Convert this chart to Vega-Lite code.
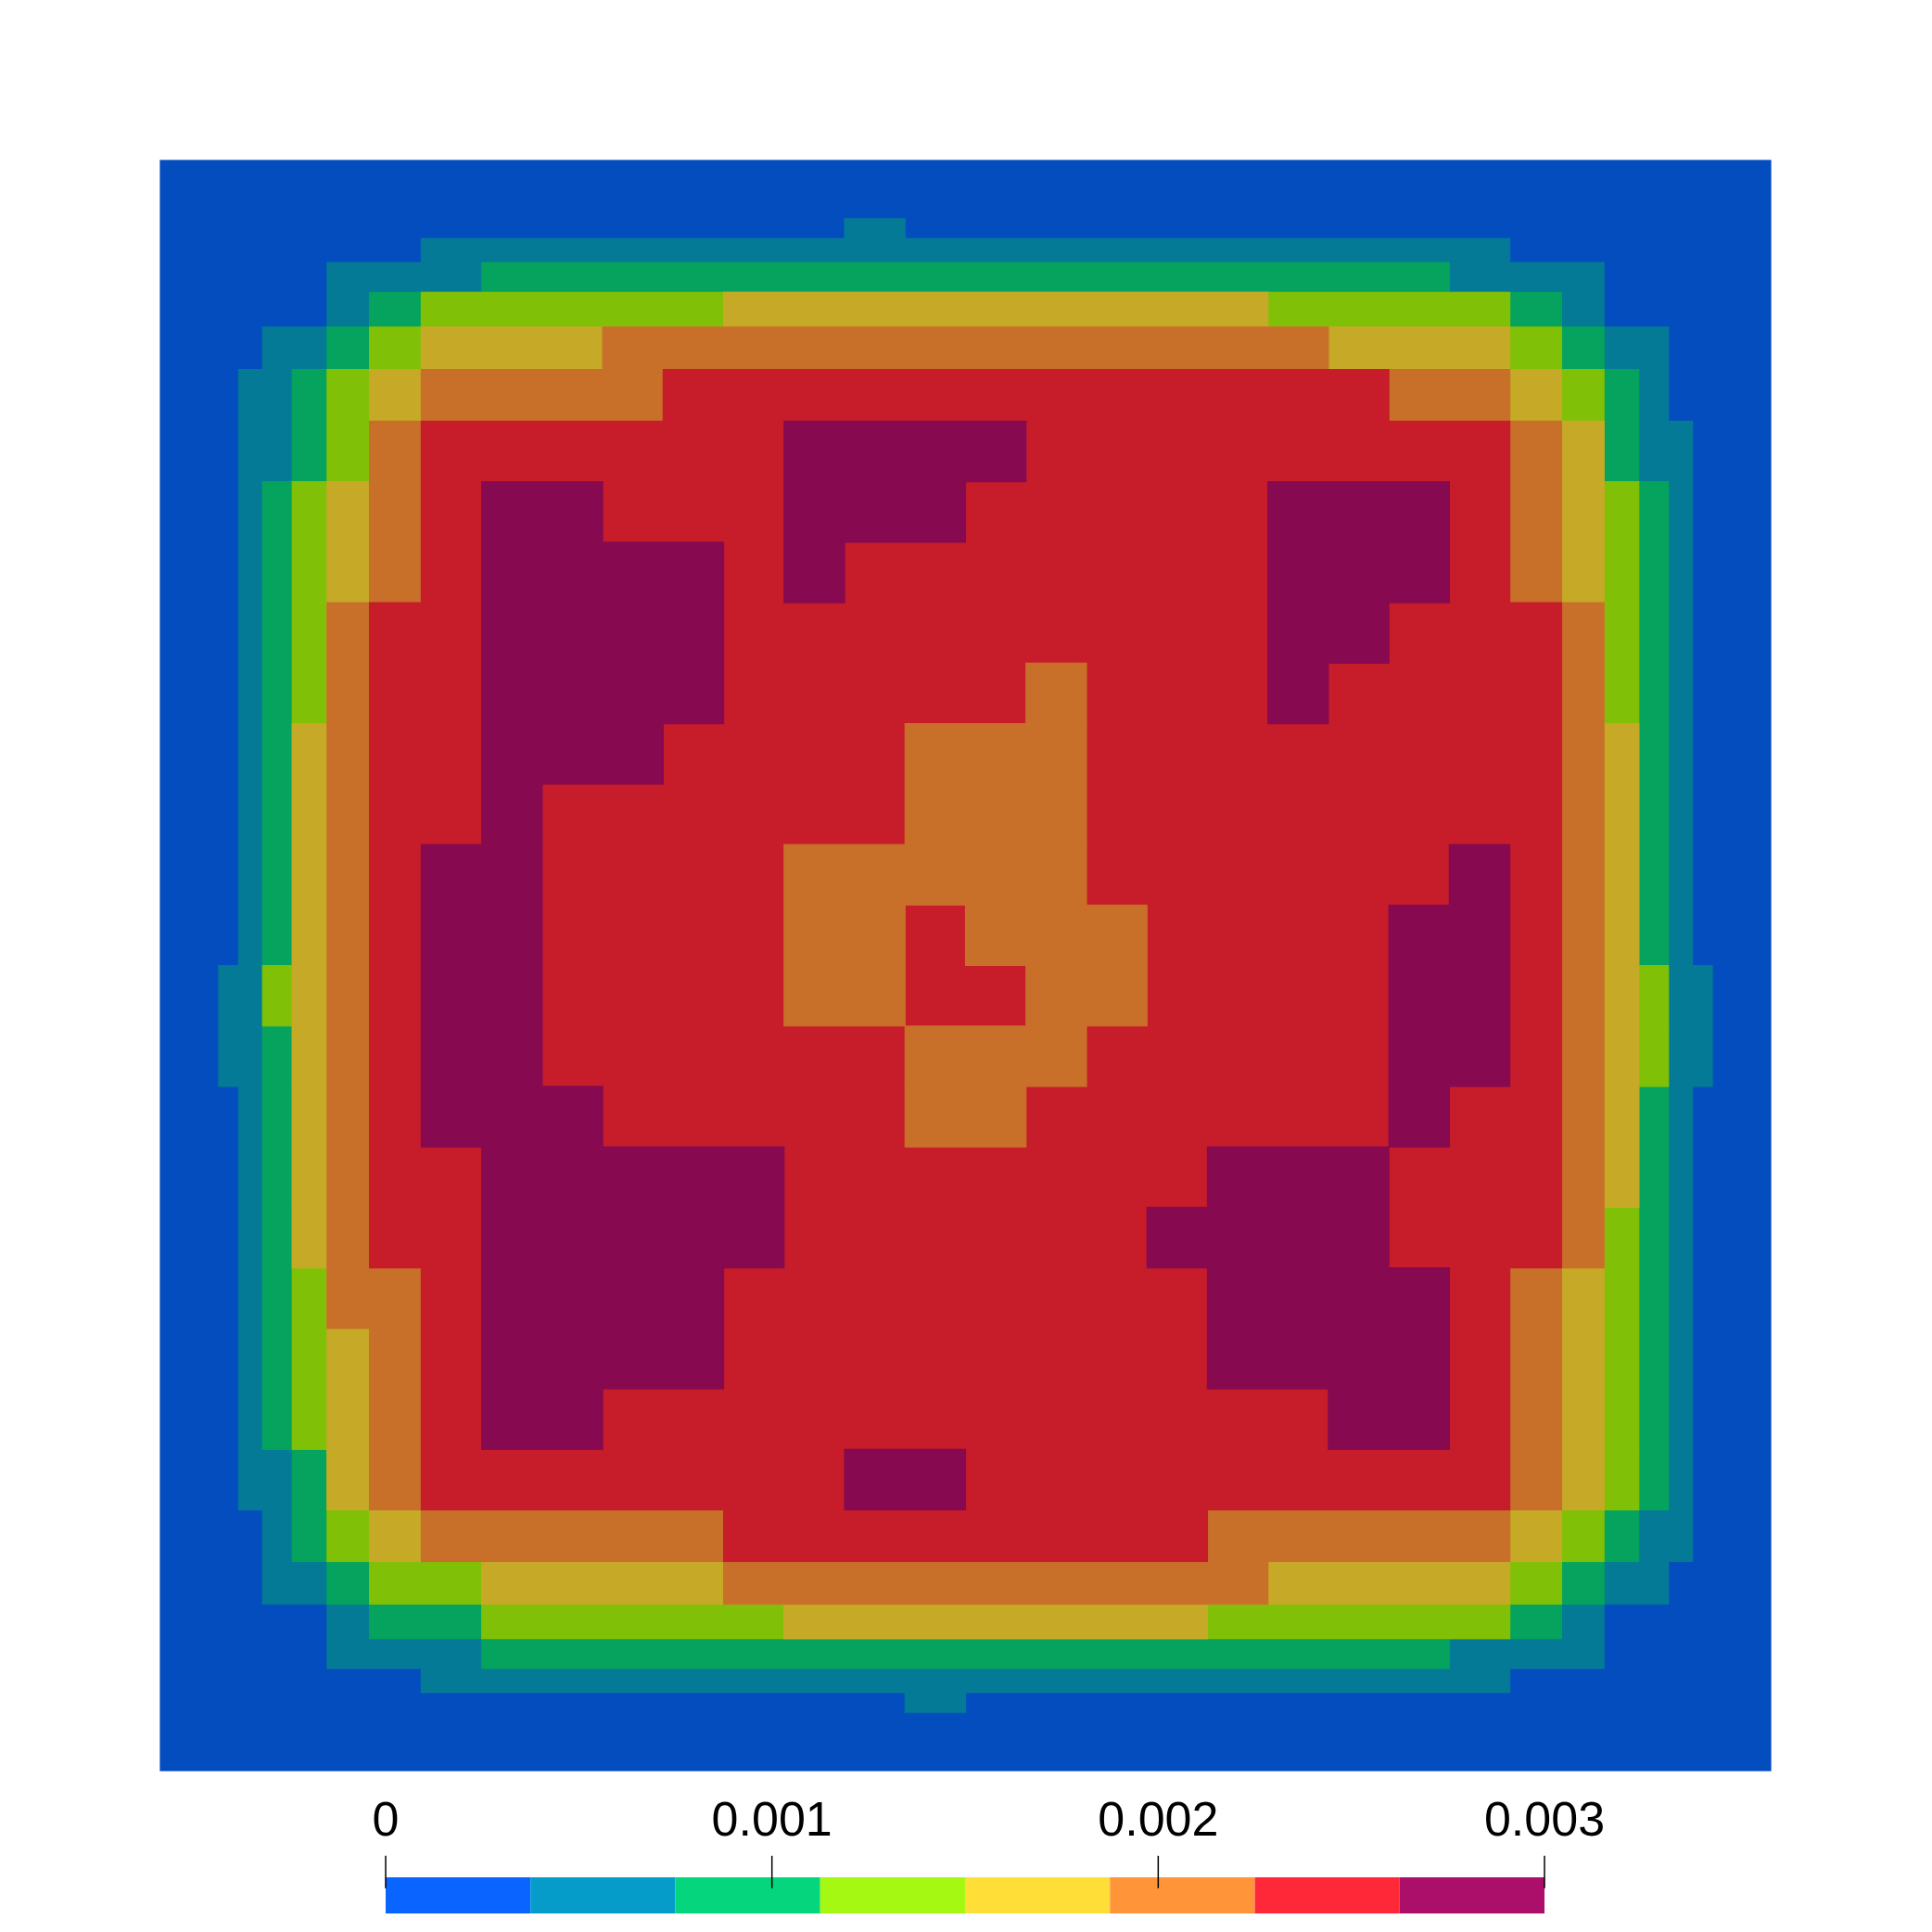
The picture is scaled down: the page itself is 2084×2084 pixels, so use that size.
{
"$schema":"https://vega.github.io/schema/vega-lite/v6.json",
"width":1737,"height":1737,
"autosize":{"type":"none"},
"padding":{"left":173,"top":173,"right":174,"bottom":174},
"background":"white",
"config":{"view":{"stroke":null}},
"datasets":{
"edges":[{"i":0,"p":-13.314},{"i":1,"p":-12.35},{"i":2,"p":-12.02},{"i":3,"p":-11.623},{"i":4,"p":-11.133},{"i":5,"p":-10.557},{"i":6,"p":-9.856},{"i":7,"p":-9},{"i":8,"p":-8},{"i":9,"p":-7},{"i":10,"p":-6},{"i":11,"p":-5},{"i":12,"p":-4},{"i":13,"p":-3},{"i":14,"p":-2},{"i":15,"p":-1},{"i":16,"p":0},{"i":17,"p":1},{"i":18,"p":2},{"i":19,"p":3},{"i":20,"p":4},{"i":21,"p":5},{"i":22,"p":6},{"i":23,"p":7},{"i":24,"p":8},{"i":25,"p":9},{"i":26,"p":9.856},{"i":27,"p":10.557},{"i":28,"p":11.133},{"i":29,"p":11.623},{"i":30,"p":12.02},{"i":31,"p":12.35},{"i":32,"p":13.314}],
"cells":[
{"i0":0,"i1":32,"j0":0,"j1":32,"v":0},
{"i0":14,"i1":15,"j0":1,"j1":2,"v":1},
{"i0":7,"i1":25,"j0":2,"j1":3,"v":1},
{"i0":5,"i1":27,"j0":3,"j1":5,"v":1},
{"i0":3,"i1":29,"j0":5,"j1":6,"v":1},
{"i0":2,"i1":29,"j0":6,"j1":7,"v":1},
{"i0":2,"i1":30,"j0":7,"j1":16,"v":1},
{"i0":1,"i1":31,"j0":16,"j1":18,"v":1},
{"i0":2,"i1":30,"j0":18,"j1":25,"v":1},
{"i0":3,"i1":30,"j0":25,"j1":26,"v":1},
{"i0":3,"i1":29,"j0":26,"j1":27,"v":1},
{"i0":5,"i1":27,"j0":27,"j1":29,"v":1},
{"i0":7,"i1":25,"j0":29,"j1":30,"v":1},
{"i0":15,"i1":16,"j0":30,"j1":31,"v":1},
{"i0":8,"i1":24,"j0":3,"j1":4,"v":2},
{"i0":6,"i1":26,"j0":4,"j1":5,"v":2},
{"i0":5,"i1":27,"j0":5,"j1":6,"v":2},
{"i0":4,"i1":28,"j0":6,"j1":8,"v":2},
{"i0":3,"i1":29,"j0":8,"j1":24,"v":2},
{"i0":4,"i1":29,"j0":24,"j1":25,"v":2},
{"i0":4,"i1":28,"j0":25,"j1":26,"v":2},
{"i0":5,"i1":27,"j0":26,"j1":27,"v":2},
{"i0":6,"i1":26,"j0":27,"j1":28,"v":2},
{"i0":8,"i1":24,"j0":28,"j1":29,"v":2},
{"i0":7,"i1":25,"j0":4,"j1":5,"v":3},
{"i0":6,"i1":26,"j0":5,"j1":6,"v":3},
{"i0":5,"i1":27,"j0":6,"j1":8,"v":3},
{"i0":4,"i1":28,"j0":8,"j1":16,"v":3},
{"i0":3,"i1":29,"j0":16,"j1":17,"v":3},
{"i0":4,"i1":29,"j0":17,"j1":18,"v":3},
{"i0":4,"i1":28,"j0":18,"j1":24,"v":3},
{"i0":5,"i1":28,"j0":24,"j1":25,"v":3},
{"i0":5,"i1":27,"j0":25,"j1":26,"v":3},
{"i0":6,"i1":26,"j0":26,"j1":27,"v":3},
{"i0":8,"i1":25,"j0":27,"j1":28,"v":3},
{"i0":12,"i1":21,"j0":4,"j1":5,"v":4},
{"i0":7,"i1":25,"j0":5,"j1":6,"v":4},
{"i0":6,"i1":26,"j0":6,"j1":7,"v":4},
{"i0":6,"i1":27,"j0":7,"j1":8,"v":4},
{"i0":5,"i1":27,"j0":8,"j1":12,"v":4},
{"i0":4,"i1":28,"j0":12,"j1":20,"v":4},
{"i0":4,"i1":27,"j0":20,"j1":21,"v":4},
{"i0":5,"i1":27,"j0":21,"j1":25,"v":4},
{"i0":6,"i1":26,"j0":25,"j1":26,"v":4},
{"i0":8,"i1":25,"j0":26,"j1":27,"v":4},
{"i0":13,"i1":20,"j0":27,"j1":28,"v":4},
{"i0":10,"i1":22,"j0":5,"j1":6,"v":5},
{"i0":7,"i1":25,"j0":6,"j1":7,"v":5},
{"i0":6,"i1":26,"j0":7,"j1":10,"v":5},
{"i0":5,"i1":27,"j0":10,"j1":21,"v":5},
{"i0":5,"i1":26,"j0":21,"j1":22,"v":5},
{"i0":6,"i1":26,"j0":22,"j1":25,"v":5},
{"i0":7,"i1":25,"j0":25,"j1":26,"v":5},
{"i0":12,"i1":21,"j0":26,"j1":27,"v":5},
{"i0":11,"i1":23,"j0":6,"j1":7,"v":6},
{"i0":7,"i1":25,"j0":7,"j1":10,"v":6},
{"i0":6,"i1":26,"j0":10,"j1":21,"v":6},
{"i0":7,"i1":25,"j0":21,"j1":25,"v":6},
{"i0":12,"i1":20,"j0":25,"j1":26,"v":6},
{"i0":13,"i1":17,"j0":7,"j1":8,"v":7},
{"i0":13,"i1":16,"j0":8,"j1":9,"v":7},
{"i0":13,"i1":14,"j0":9,"j1":10,"v":7},
{"i0":21,"i1":24,"j0":8,"j1":10,"v":7},
{"i0":21,"i1":23,"j0":10,"j1":11,"v":7},
{"i0":21,"i1":22,"j0":11,"j1":12,"v":7},
{"i0":8,"i1":10,"j0":8,"j1":9,"v":7},
{"i0":8,"i1":12,"j0":9,"j1":12,"v":7},
{"i0":8,"i1":11,"j0":12,"j1":13,"v":7},
{"i0":8,"i1":9,"j0":13,"j1":14,"v":7},
{"i0":7,"i1":9,"j0":14,"j1":18,"v":7},
{"i0":7,"i1":10,"j0":18,"j1":19,"v":7},
{"i0":8,"i1":13,"j0":19,"j1":21,"v":7},
{"i0":8,"i1":12,"j0":21,"j1":23,"v":7},
{"i0":8,"i1":10,"j0":23,"j1":24,"v":7},
{"i0":24,"i1":25,"j0":14,"j1":15,"v":7},
{"i0":23,"i1":25,"j0":15,"j1":18,"v":7},
{"i0":23,"i1":24,"j0":18,"j1":19,"v":7},
{"i0":20,"i1":23,"j0":19,"j1":20,"v":7},
{"i0":19,"i1":23,"j0":20,"j1":21,"v":7},
{"i0":20,"i1":24,"j0":21,"j1":23,"v":7},
{"i0":22,"i1":24,"j0":23,"j1":24,"v":7},
{"i0":14,"i1":16,"j0":24,"j1":25,"v":7},
{"i0":17,"i1":18,"j0":11,"j1":12,"v":5},
{"i0":15,"i1":18,"j0":12,"j1":14,"v":5},
{"i0":13,"i1":18,"j0":14,"j1":15,"v":5},
{"i0":13,"i1":15,"j0":15,"j1":17,"v":5},
{"i0":16,"i1":19,"j0":15,"j1":16,"v":5},
{"i0":17,"i1":19,"j0":16,"j1":17,"v":5},
{"i0":15,"i1":18,"j0":17,"j1":18,"v":5},
{"i0":15,"i1":17,"j0":18,"j1":19,"v":5}
],
"bins":[{"lo":0,"hi":0.000375,"k":0},{"lo":0.000375,"hi":0.00075,"k":1},{"lo":0.00075,"hi":0.001125,"k":2},{"lo":0.001125,"hi":0.0015,"k":3},{"lo":0.0015,"hi":0.001875,"k":4},{"lo":0.001875,"hi":0.00225,"k":5},{"lo":0.00225,"hi":0.002625,"k":6},{"lo":0.002625,"hi":0.003,"k":7}],
"ticks":[{"t":0,"label":"0"},{"t":0.001,"label":"0.001"},{"t":0.002,"label":"0.002"},{"t":0.003,"label":"0.003"}]
},
"layer":[
{
"data":{"name":"cells"},
"transform":[
{"lookup":"i0","from":{"data":{"name":"edges"},"key":"i","fields":["p"]},"as":["xa"]},
{"lookup":"i1","from":{"data":{"name":"edges"},"key":"i","fields":["p"]},"as":["xb"]},
{"lookup":"j0","from":{"data":{"name":"edges"},"key":"i","fields":["p"]},"as":["ya"]},
{"lookup":"j1","from":{"data":{"name":"edges"},"key":"i","fields":["p"]},"as":["yb"]}
],
"mark":{"type":"rect","strokeWidth":1.2,"strokeJoin":"miter"},
"encoding":{
"x":{"field":"xa","type":"quantitative","scale":{"domain":[-13.314,13.314],"nice":false,"zero":false},"axis":null},
"x2":{"field":"xb"},
"y":{"field":"ya","type":"quantitative","scale":{"domain":[-13.314,13.314],"reverse":true,"nice":false,"zero":false},"axis":null},
"y2":{"field":"yb"},
"color":{"field":"v","type":"ordinal","scale":{"domain":[0,1,2,3,4,5,6,7],"range":["#044DBE","#047A96","#05A35D","#80C006","#C6AA27","#C8702A","#C71D2A","#870A50"]},"legend":null},
"stroke":{"field":"v","type":"ordinal","scale":{"domain":[0,1,2,3,4,5,6,7],"range":["#044DBE","#047A96","#05A35D","#80C006","#C6AA27","#C8702A","#C71D2A","#870A50"]},"legend":null}
}
},
{
"layer":[
{
"data":{"name":"bins"},
"mark":{"type":"rect","strokeWidth":0},
"encoding":{
"x":{"field":"lo","type":"quantitative","scale":{"domain":[-0.0005832,0.0035856],"nice":false,"zero":false},"axis":null},
"x2":{"field":"hi"},
"y":{"datum":15.078,"type":"quantitative","scale":{"domain":[-13.314,13.314],"reverse":true,"nice":false,"zero":false},"axis":null},
"y2":{"datum":15.676},
"color":{"field":"k","type":"ordinal","scale":{"domain":[0,1,2,3,4,5,6,7],"range":["#0A64FF","#059CCA","#05D67E","#A5F811","#FFDE37","#FF9439","#FF2838","#AB0F6A"]},"legend":null}
}
},
{
"data":{"name":"ticks"},
"mark":{"type":"rule","color":"#000000","strokeWidth":1.5},
"encoding":{
"x":{"field":"t","type":"quantitative"},
"y":{"datum":14.721,"type":"quantitative"},
"y2":{"datum":15.257}
}
},
{
"data":{"name":"ticks"},
"mark":{"type":"text","font":"Liberation Sans","fontSize":52,"fontWeight":300,"align":"center","baseline":"alphabetic","color":"#000000"},
"encoding":{
"x":{"field":"t","type":"quantitative"},
"y":{"datum":14.388,"type":"quantitative"},
"text":{"field":"label"}
}
}
]
}
],
"resolve":{"scale":{"x":"independent","color":"independent"}}
}
